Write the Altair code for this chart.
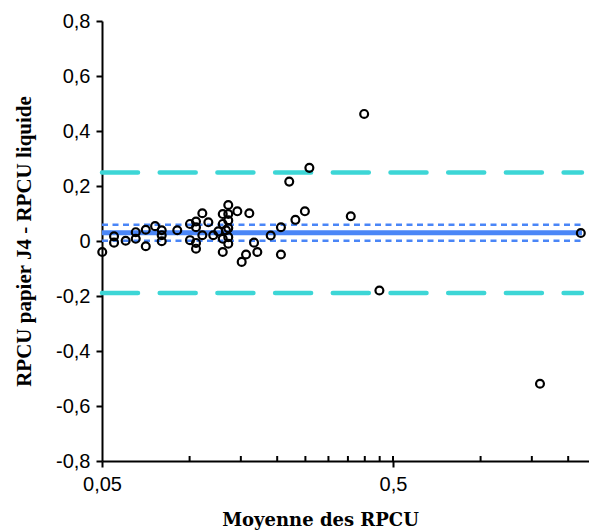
import altair as alt
import pandas as pd

# Data (Bland-Altman plot)
mean_rpcu = [0.0501, 0.055, 0.055, 0.0603, 0.0653, 0.0653, 0.0707, 0.0707, 0.0761,
             0.0802, 0.0802, 0.0802, 0.0907, 0.1003, 0.1003, 0.1052, 0.1052, 0.1052,
             0.1052, 0.1106, 0.1106, 0.116, 0.1206, 0.1255, 0.13, 0.13, 0.13, 0.13,
             0.1334, 0.1358, 0.1358, 0.1358, 0.1358, 0.1358, 0.1358, 0.1459, 0.151,
             0.1563, 0.1604, 0.1665, 0.1709, 0.19, 0.206, 0.206, 0.22, 0.231, 0.249,
             0.258, 0.358, 0.398, 0.449, 1.60, 2.21]
diff_rpcu = [-0.040, 0.017, -0.006, 0.001, 0.032, 0.008, 0.041, -0.019, 0.054,
             0.039, 0.021, -0.001, 0.039, 0.062, 0.003, 0.071, 0.050, -0.007,
             -0.028, 0.101, 0.021, 0.068, 0.021, 0.035, 0.098, 0.062, 0.008, -0.040,
             0.039, 0.131, 0.098, 0.075, 0.047, 0.014, -0.010, 0.108, -0.076,
             -0.049, 0.101, -0.006, -0.040, 0.020, 0.050, -0.049, 0.216, 0.077, 0.108,
             0.266, 0.090, 0.462, -0.180, -0.519, 0.029]

line_names = ["loa_up", "ci_up", "mean", "ci_low", "loa_low"]
line_values = [0.249, 0.059, 0.030, 0.001, -0.189]
line_x_start = 0.05
line_x_end = 2.23

y_ticks = [-0.8, -0.6, -0.4, -0.2, 0, 0.2, 0.4, 0.6, 0.8]
x_major = [0.05, 0.5]
x_minor = [0.1, 0.15, 0.2, 0.25, 0.3, 0.35, 0.4, 0.45, 0.5, 1.0, 1.5, 2.0]

pts = pd.DataFrame({"x": mean_rpcu, "y": diff_rpcu})
lines = pd.DataFrame({"name": line_names, "y": line_values,
                      "x1": [line_x_start] * 5, "x2": [line_x_end] * 5})
minor = pd.DataFrame({"x": x_minor})

W, H = 487, 440
xscale = alt.Scale(type="log", domain=[0.05, 2.358], nice=False)
yscale = alt.Scale(domain=[-0.8, 0.8], nice=False)

label_font = "Liberation Sans"

xaxis = alt.Axis(values=x_major, title="Moyenne des RPCU",
                 labelExpr="datum.value == 0.05 ? '0,05' : (datum.value == 0.5 ? '0,5' : '')",
                 grid=False, tickSize=6, tickWidth=2, tickColor="black",
                 domainColor="black", domainWidth=2,
                 labelFont=label_font, labelFontSize=20, labelColor="black", labelPadding=7,
                 labelFlush=False, labelOverlap=False,
                 titleFont="DejaVu Serif", titleFontSize=18, titleFontWeight="bold",
                 titleColor="black", titleX=218, titleY=64, titleBaseline="alphabetic",
                 titleAnchor="middle", titleAlign="center")
yaxis = alt.Axis(values=y_ticks, title="RPCU papier J4 - RPCU liquide",
                 labelExpr="datum.value == 0 ? '0' : (datum.value < 0 ? '-' + replace(format(-datum.value, '.1f'), '.', ',') : replace(format(datum.value, '.1f'), '.', ','))",
                 grid=False, tickSize=6, tickWidth=2, tickColor="black",
                 domainColor="black", domainWidth=2,
                 labelFont=label_font, labelFontSize=20, labelColor="black", labelPadding=6,
                 labelFlush=False, labelOverlap=False,
                 titleFont="Liberation Serif", titleFontSize=21, titleFontWeight="bold",
                 titleColor="black", titleX=-78, titleY=H / 2, titleAngle=270,
                 titleBaseline="middle", titleAlign="center")

base_lines = alt.Chart(lines)

loa = base_lines.transform_filter("datum.name == 'loa_up' || datum.name == 'loa_low'").mark_rule(
    color="#3DD6D6", strokeWidth=4.5, strokeDash=[36, 21.7], strokeCap="round"
).encode(x=alt.X("x1:Q", scale=xscale, axis=xaxis), x2="x2:Q",
         y=alt.Y("y:Q", scale=yscale, axis=yaxis))

ci = base_lines.transform_filter("datum.name == 'ci_up' || datum.name == 'ci_low'").mark_rule(
    color="#4A86F7", strokeWidth=2.5, strokeDash=[6, 4.5]
).encode(x=alt.X("x1:Q", scale=xscale), x2="x2:Q", y=alt.Y("y:Q", scale=yscale))

mean_line = base_lines.transform_filter("datum.name == 'mean'").mark_rule(
    color="#4A86F7", strokeWidth=5
).encode(x=alt.X("x1:Q", scale=xscale), x2="x2:Q", y=alt.Y("y:Q", scale=yscale))

minor_ticks = alt.Chart(minor).mark_rule(color="black", strokeWidth=2).encode(
    x=alt.X("x:Q", scale=xscale), y=alt.value(H), y2=alt.value(H - 5))

points = alt.Chart(pts).mark_point(
    shape="circle", filled=False, color="black", strokeWidth=2.2, size=62, opacity=1
).encode(x=alt.X("x:Q", scale=xscale), y=alt.Y("y:Q", scale=yscale))

chart = alt.layer(loa, ci, mean_line, minor_ticks, points).properties(
    width=W, height=H,
    autosize=alt.AutoSizeParams(type="none"),
    padding={"left": 94, "top": 13, "right": 0, "bottom": 70},
    background="white"
).configure_view(stroke=None)

chart.save("out.html", embed_options={"renderer": "svg", "actions": False})
